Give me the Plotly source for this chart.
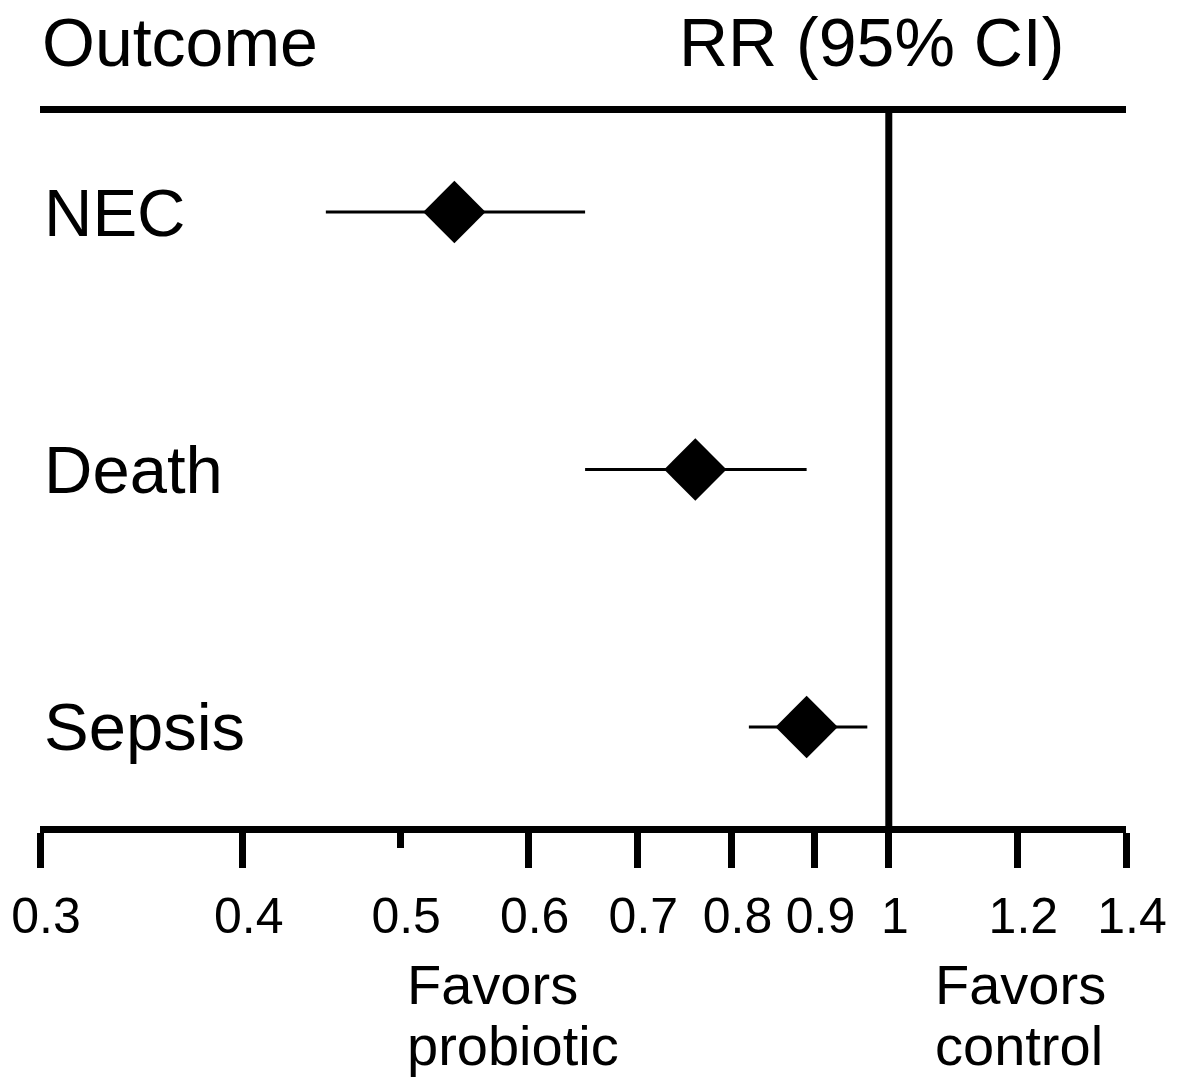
import plotly.graph_objects as go
import math

# ---- data ----
outcomes = ["NEC", "Death", "Sepsis"]
rr = [0.54, 0.76, 0.89]
ci_low = [0.45, 0.65, 0.82]
ci_high = [0.65, 0.89, 0.97]

tick_vals = [0.3, 0.4, 0.5, 0.6, 0.7, 0.8, 0.9, 1.0, 1.2, 1.4]
tick_text = ["0.3", "0.4", "0.5", "0.6", "0.7", "0.8", "0.9", "1", "1.2", "1.4"]
long_tick_vals = [0.3, 0.4, 0.6, 0.7, 0.8, 0.9, 1.0, 1.2, 1.4]
short_tick_vals = [0.5]

header_left = "Outcome"
header_right = "RR (95% CI)"
favors_left = ["Favors", "probiotic"]
favors_right = ["Favors", "control"]
ref_value = 1.0

FONT = "Arial, Liberation Sans, Helvetica, sans-serif"

# page body has an 8px margin; work in screen pixels and convert
OFF = 8
W, H = 1167, 1069
LAB_SHIFT = 6            # tick labels sit ~6px right of their tick marks
SX0, SX1 = 40, 1126      # axis extent on screen (x)
SX1_TOT = SX1 + LAB_SHIFT
SY0, SY1 = 113, 826      # plot area on screen (y)
L = SX0 - OFF
R = W - (SX1_TOT - OFF)
T = SY0 - OFF
B = H - (SY1 - OFF)
tot_w = SX1_TOT - SX0
plot_h = SY1 - SY0
main_dom = [0, (SX1 - SX0) / tot_w]
lab_dom = [LAB_SHIFT / tot_w, 1]

ypos = list(range(len(outcomes)))

fig = go.Figure()

fig.add_trace(go.Scatter(
    x=rr, y=ypos, mode="markers",
    marker=dict(symbol="diamond", size=48, color="black", line=dict(width=0)),
    error_x=dict(type="data", symmetric=False,
                 array=[h - r for h, r in zip(ci_high, rr)],
                 arrayminus=[r - l for r, l in zip(rr, ci_low)],
                 color="black", thickness=3, width=0),
    showlegend=False, hoverinfo="skip",
))

# invisible traces for the helper axes (short tick, tick labels)
for ax in ["x2", "x3"]:
    fig.add_trace(go.Scatter(x=[tick_vals[1]], y=[0], xaxis=ax, mode="markers",
                             marker=dict(opacity=0), showlegend=False, hoverinfo="skip"))

lo, hi = math.log10(0.3), math.log10(1.4)

common = dict(showgrid=False, zeroline=False, automargin=False)

fig.update_layout(
    width=W, height=H,
    margin=dict(l=L, r=R, t=T, b=B, pad=0, autoexpand=False),
    paper_bgcolor="white", plot_bgcolor="rgba(0,0,0,0)",
    xaxis=dict(type="log", range=[lo, hi], domain=main_dom, tickmode="array",
               tickvals=long_tick_vals, ticks="outside", ticklen=35,
               tickwidth=7, tickcolor="black", showticklabels=False,
               showline=True, linewidth=7, linecolor="black", mirror=True,
               **common),
    xaxis2=dict(type="log", range=[lo, hi], overlaying="x",
                anchor="y", side="bottom", tickmode="array",
                tickvals=short_tick_vals, ticks="outside", ticklen=21,
                tickwidth=7, tickcolor="black", showticklabels=False,
                showline=False, **common),
    xaxis3=dict(type="log", range=[lo, hi], domain=lab_dom,
                anchor="y", side="bottom", tickmode="array",
                tickvals=tick_vals, ticktext=tick_text, tickangle=0, ticks="",
                showline=False, ticklabeloverflow="allow",
                tickfont=dict(family=FONT, size=50, color="black"),
                ticklabelstandoff=56, **common),
    yaxis=dict(range=[2.3845, -0.3845], showticklabels=False, ticks="",
               showline=False, **common),
)

# reference line at RR = 1
fig.add_shape(type="line", xref="x", yref="paper", x0=ref_value, x1=ref_value,
              y0=0, y1=1, line=dict(color="black", width=7), layer="below")

def py(pix):
    return (SY1 - pix) / plot_h

def px(pix):
    return (pix - SX0) / tot_w

# outcome labels
for name, yv in zip(outcomes, ypos):
    fig.add_annotation(x=px(42), xref="paper", y=yv, yref="y", text=name,
                       showarrow=False, xanchor="left", yanchor="middle",
                       font=dict(family=FONT, size=67, color="black"))

# headers
fig.add_annotation(x=px(40), xref="paper", y=py(42), yref="paper", text=header_left,
                   showarrow=False, xanchor="left", yanchor="middle",
                   font=dict(family=FONT, size=68, color="black"))
fig.add_annotation(x=px(1066), xref="paper", y=py(42), yref="paper", text=header_right,
                   showarrow=False, xanchor="right", yanchor="middle",
                   font=dict(family=FONT, size=68, color="black"))

# favors labels (left-aligned two-line blocks)
for lx, lines in [(405, favors_left), (933, favors_right)]:
    for i, t in enumerate(lines):
        fig.add_annotation(x=px(lx), xref="paper", y=py(984 + 61 * i), yref="paper",
                           text=t, showarrow=False, xanchor="left", yanchor="middle",
                           font=dict(family=FONT, size=56, color="black"))

fig.write_html("out.html")
